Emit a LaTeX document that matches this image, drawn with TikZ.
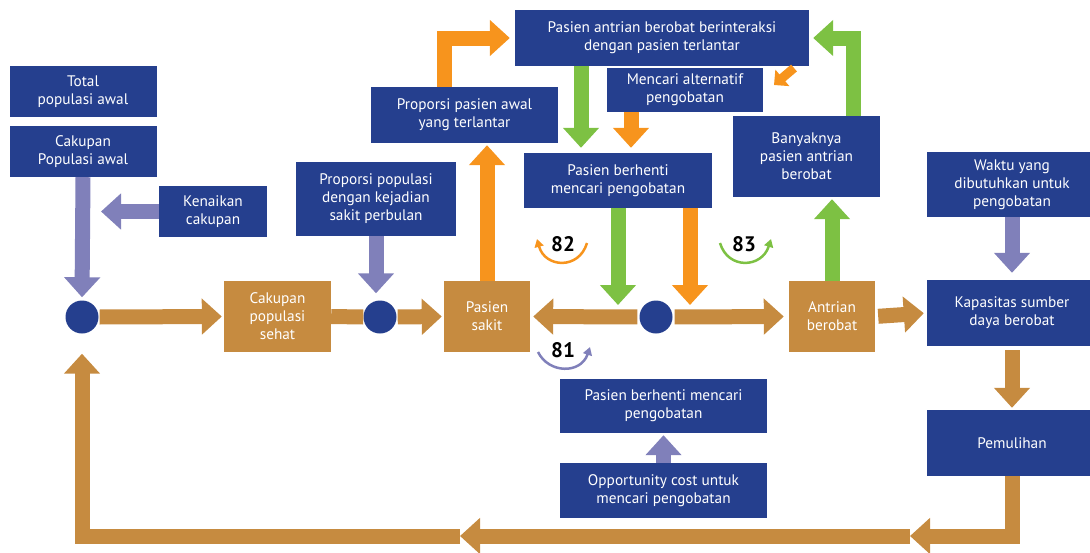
\documentclass[tikz,border=0pt]{standalone}
\usepackage{fontspec}
\setmainfont{PT Sans}
\usetikzlibrary{positioning, arrows.meta, calc}
\definecolor{navyfill}{HTML}{253F8E}
\definecolor{stockfill}{HTML}{C68B40}
\definecolor{orangeflow}{HTML}{F7941D}
\definecolor{greenflow}{HTML}{7DC143}
\definecolor{purpleflow}{HTML}{8080BA}
\tikzset{
    infobox/.style 2 args={
        fill=navyfill, text=white, inner sep=0pt,
        minimum width=#1, minimum height=#2,
        font=\fontsize{15.3}{18}\selectfont, align=center,
    },
    stockbox/.style={
        fill=stockfill, text=white, inner sep=0pt,
        minimum width=#1, minimum height=71pt,
        font=\fontsize{15.3}{18}\selectfont, align=center,
    },
    hub/.style={
        circle, fill=navyfill, minimum size=33pt, inner sep=0pt,
    },
    flow/.style={
        -{Triangle[width=35pt, length=20pt]}, line width=15pt, color=#1,
    },
    flowbar/.style={
        line width=15pt, color=#1,
    },
    loopnum/.style={
        font=\fontsize{21}{21}\selectfont\bfseries, text=black,
    },
    looparrow/.style={
        -{Triangle[width=9pt, length=8pt]}, line width=2.5pt, color=#1,
    },
}

\begin{document}
\begin{tikzpicture}[x=1pt, y=-1pt]
\useasboundingbox (0,0) rectangle (1090,552);

% ── Left column: population inputs ──────────────────────────
\node[infobox={147pt}{51pt}] (totalpop)  at (83,91.5)  {Total\\populasi awal};
\node[infobox={147pt}{51pt}] (coverinit) at (83,151.5) {Cakupan\\Populasi awal};
\node[infobox={108pt}{51pt}] (raise)     at (213,211.5) {Kenaikan\\cakupan};
\node[infobox={160pt}{74pt}] (incidence) at (376,199)  {Proporsi populasi\\dengan kejadian\\sakit perbulan};

% ── Main chain ──────────────────────────────────────────────
\node[hub] (hub1) at (82,317) {};
\node[stockbox=107pt] (cover) at (277.5,316.5) {Cakupan\\populasi\\sehat};
\node[hub] (hub2) at (380,317) {};
\node[stockbox=86pt] (sick) at (487,316.5) {Pasien\\sakit};
\node[hub] (hub3) at (656,317) {};
\node[stockbox=86pt] (queue) at (832,316.5) {Antrian\\berobat};

% ── Feedback boxes (top) ────────────────────────────────────
\node[infobox={187pt}{56pt}] (strandprop) at (464.5,115) {Proporsi pasien awal\\yang terlantar};
\node[infobox={294pt}{56pt}] (interact)   at (662,38)    {Pasien antrian berobat berinteraksi\\dengan pasien terlantar};
\node[infobox={156pt}{44pt}] (altcare)    at (685,90)    {Mencari alternatif\\pengobatan};
\node[infobox={188pt}{55pt}] (stopup)     at (618,180.5) {Pasien berhenti\\mencari pengobatan};
\node[infobox={147pt}{81pt}] (banyak)     at (806.5,156.5) {Banyaknya\\pasien antrian\\berobat};

% ── Right column: treatment ─────────────────────────────────
\node[infobox={170pt}{65pt}] (treattime) at (1012,184.5) {Waktu yang\\dibutuhkan untuk\\pengobatan};
\node[infobox={170pt}{66pt}] (capacity)  at (1012,313)   {Kapasitas sumber\\daya berobat};
\node[infobox={170pt}{66pt}] (recovery)  at (1012,443)   {Pemulihan};

% ── Bottom: opportunity cost ────────────────────────────────
\node[infobox={207pt}{54pt}] (stoplow) at (663.5,406)   {Pasien berhenti mencari\\pengobatan};
\node[infobox={207pt}{55pt}] (oppcost) at (663.5,490.5) {Opportunity cost untuk\\mencari pengobatan};

% ── Loop labels ─────────────────────────────────────────────
\node[loopnum] (loop82) at (563,244) {82};
\node[loopnum] (loop83) at (744,244) {83};
\node[loopnum] (loop81) at (563,350) {81};

% free ends
\coordinate (raisetip) at (101,211.5);
\coordinate (altcue)   at (794,68);
\coordinate (alttip)   at (774,85);
\coordinate (retR)     at (1012,536);
\coordinate (retmidR)  at (910,536);
\coordinate (retmidL)  at (460,536);
\coordinate (retL)     at (82,536);

% ── Stock flows ─────────────────────────────────────────────
\draw[flow=stockfill, shorten <=1pt, shorten >=2pt] (hub1.east) -- (cover.west);
\draw[flowbar=stockfill] (cover.east) -- (hub2.west);
\draw[flow=stockfill, shorten <=1pt, shorten >=2pt] (hub2.east) -- (sick.west);
\draw[flow=stockfill, shorten <=2pt, shorten >=3pt] (hub3.west) -- (sick.east);
\draw[flow=stockfill, shorten <=2pt, shorten >=5pt] (hub3.east) -- (queue.west);
\draw[flow=stockfill, shorten <=3pt, shorten >=3pt] (queue.east) -- (capacity.west);
\draw[flow=stockfill, shorten <=4pt, shorten >=2pt] (capacity.south) -- (recovery.north);
\draw[flow=stockfill, line join=miter] (recovery.south) -- (retR) -- (retmidR);
\draw[flow=stockfill] (retmidR) -- (retmidL);
\draw[flow=stockfill, line join=miter, shorten >=20pt] (retmidL) -- (retL) -- (hub1.south);

% ── Inputs (purple) ─────────────────────────────────────────
\draw[flow=purpleflow, shorten >=3pt] (coverinit.south) -- (hub1.north);
\draw[flow=purpleflow] (raise.west) -- (raisetip);
\draw[flow=purpleflow, shorten >=7pt] (incidence.south) -- (incidence.south |- hub2.north);
\draw[flow=purpleflow, shorten >=7pt] (treattime.south) -- (capacity.north);
\draw[flow=purpleflow, shorten >=2pt] (oppcost.north) -- (stoplow.south);

% ── Loop 82 (orange) ────────────────────────────────────────
\draw[flow=orangeflow, shorten >=2pt] (sick.north) -- (sick.north |- strandprop.south);
\draw[flow=orangeflow, line join=miter, shorten >=5pt] ([xshift=-20pt]strandprop.north) |- (interact.west);
\draw[flow=orangeflow, line width=9pt, -{Triangle[width=21pt, length=11pt]}] (altcue) -- (alttip);
\draw[flow=orangeflow, shorten >=5pt] ([xshift=-54pt]altcare.south) -- ([xshift=-54pt]altcare.south |- stopup.north);
\draw[flow=orangeflow, shorten >=12pt] ([xshift=72pt]stopup.south) -- ([xshift=72pt]stopup.south |- hub3.center);

% ── Loop 83 (green) ─────────────────────────────────────────
\draw[flow=greenflow, shorten >=5pt] ([xshift=-81pt]interact.south) -- ([xshift=-81pt]interact.south |- stopup.north);
\draw[flow=greenflow, shorten >=12pt] (stopup.south) -- (stopup.south |- hub3.center);
\draw[flow=greenflow, shorten >=2pt] (queue.north) -- (queue.north |- banyak.south);
\draw[flow=greenflow, line join=miter, shorten >=4pt] ([xshift=47pt]banyak.north) |- (interact.east);

% ── Loop arrows ─────────────────────────────────────────────
\draw[looparrow=orangeflow] ($(loop82)+(24,-1)$) .. controls ($(loop82)+(16,26)$) and ($(loop82)+(-18,24)$) .. ($(loop82)+(-26,-5)$);
\draw[looparrow=greenflow]  ($(loop83)+(-24,-1)$) .. controls ($(loop83)+(-16,26)$) and ($(loop83)+(18,24)$) .. ($(loop83)+(27,-5)$);
\draw[looparrow=purpleflow] ($(loop81)+(-25,2)$) .. controls ($(loop81)+(-14,24)$) and ($(loop81)+(18,24)$) .. ($(loop81)+(27,-3)$);

\end{tikzpicture}
\end{document}
